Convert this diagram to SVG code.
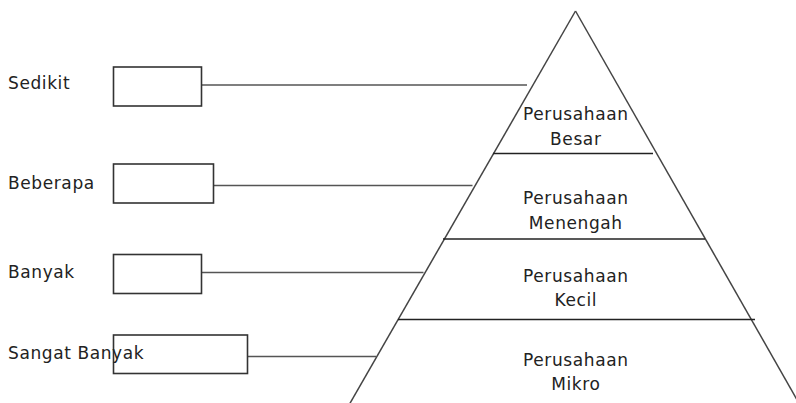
<svg xmlns="http://www.w3.org/2000/svg" width="796" height="403" viewBox="0 0 796 403">
  <style>
    .lbl { font-family: "DejaVu Sans", "Liberation Sans", sans-serif; font-size: 17px; letter-spacing: 0.6px; fill: #222; }
    .mid { text-anchor: middle; }
    .box { fill: #fff; stroke: #333; stroke-width: 1.6; }
    .conn { stroke: #555; stroke-width: 1.4; fill: none; }
    .edge { stroke: #444; stroke-width: 1.5; fill: none; }
    .tier { stroke: #222; stroke-width: 1.4; fill: none; }
  </style>

  <!-- pyramid outline (base runs off the bottom edge) -->
  <g id="pyramid">
    <line class="edge" x1="575.5" y1="11" x2="349" y2="405"/>
    <line class="edge" x1="575.5" y1="11" x2="800" y2="405"/>
    <line class="tier" x1="493" y1="153.5" x2="653" y2="153.5"/>
    <line class="tier" x1="443" y1="239" x2="705" y2="239"/>
    <line class="tier" x1="398" y1="319.5" x2="755" y2="319.5"/>
  </g>

  <!-- connectors from quantity boxes to the pyramid -->
  <g id="connectors">
    <line class="conn" x1="201.5" y1="85" x2="527" y2="85"/>
    <line class="conn" x1="213.5" y1="185.5" x2="472.5" y2="185.5"/>
    <line class="conn" x1="201.5" y1="272.5" x2="423.5" y2="272.5"/>
    <line class="conn" x1="247.5" y1="356.5" x2="376" y2="356.5"/>
  </g>

  <g id="sedikit">
    <text class="lbl" x="8" y="88.5">Sedikit</text>
    <rect class="box" x="113.5" y="67" width="88" height="39"/>
  </g>

  <g id="beberapa">
    <text class="lbl" x="8" y="188.5">Beberapa</text>
    <rect class="box" x="113.5" y="164" width="100" height="39"/>
  </g>

  <g id="banyak">
    <text class="lbl" x="8" y="278">Banyak</text>
    <rect class="box" x="113.5" y="254.5" width="88" height="39"/>
  </g>

  <g id="sangat-banyak">
    <rect class="box" x="113.5" y="335" width="134" height="38.5"/>
    <text class="lbl" x="8" y="359">Sangat Banyak</text>
  </g>

  <g id="tier-besar">
    <text class="lbl mid" x="575.8" y="120">Perusahaan</text>
    <text class="lbl mid" x="575.8" y="145">Besar</text>
  </g>

  <g id="tier-menengah">
    <text class="lbl mid" x="575.8" y="204">Perusahaan</text>
    <text class="lbl mid" x="575.8" y="229">Menengah</text>
  </g>

  <g id="tier-kecil">
    <text class="lbl mid" x="575.8" y="282">Perusahaan</text>
    <text class="lbl mid" x="575.8" y="306">Kecil</text>
  </g>

  <g id="tier-mikro">
    <text class="lbl mid" x="575.8" y="366">Perusahaan</text>
    <text class="lbl mid" x="575.8" y="390">Mikro</text>
  </g>
</svg>
